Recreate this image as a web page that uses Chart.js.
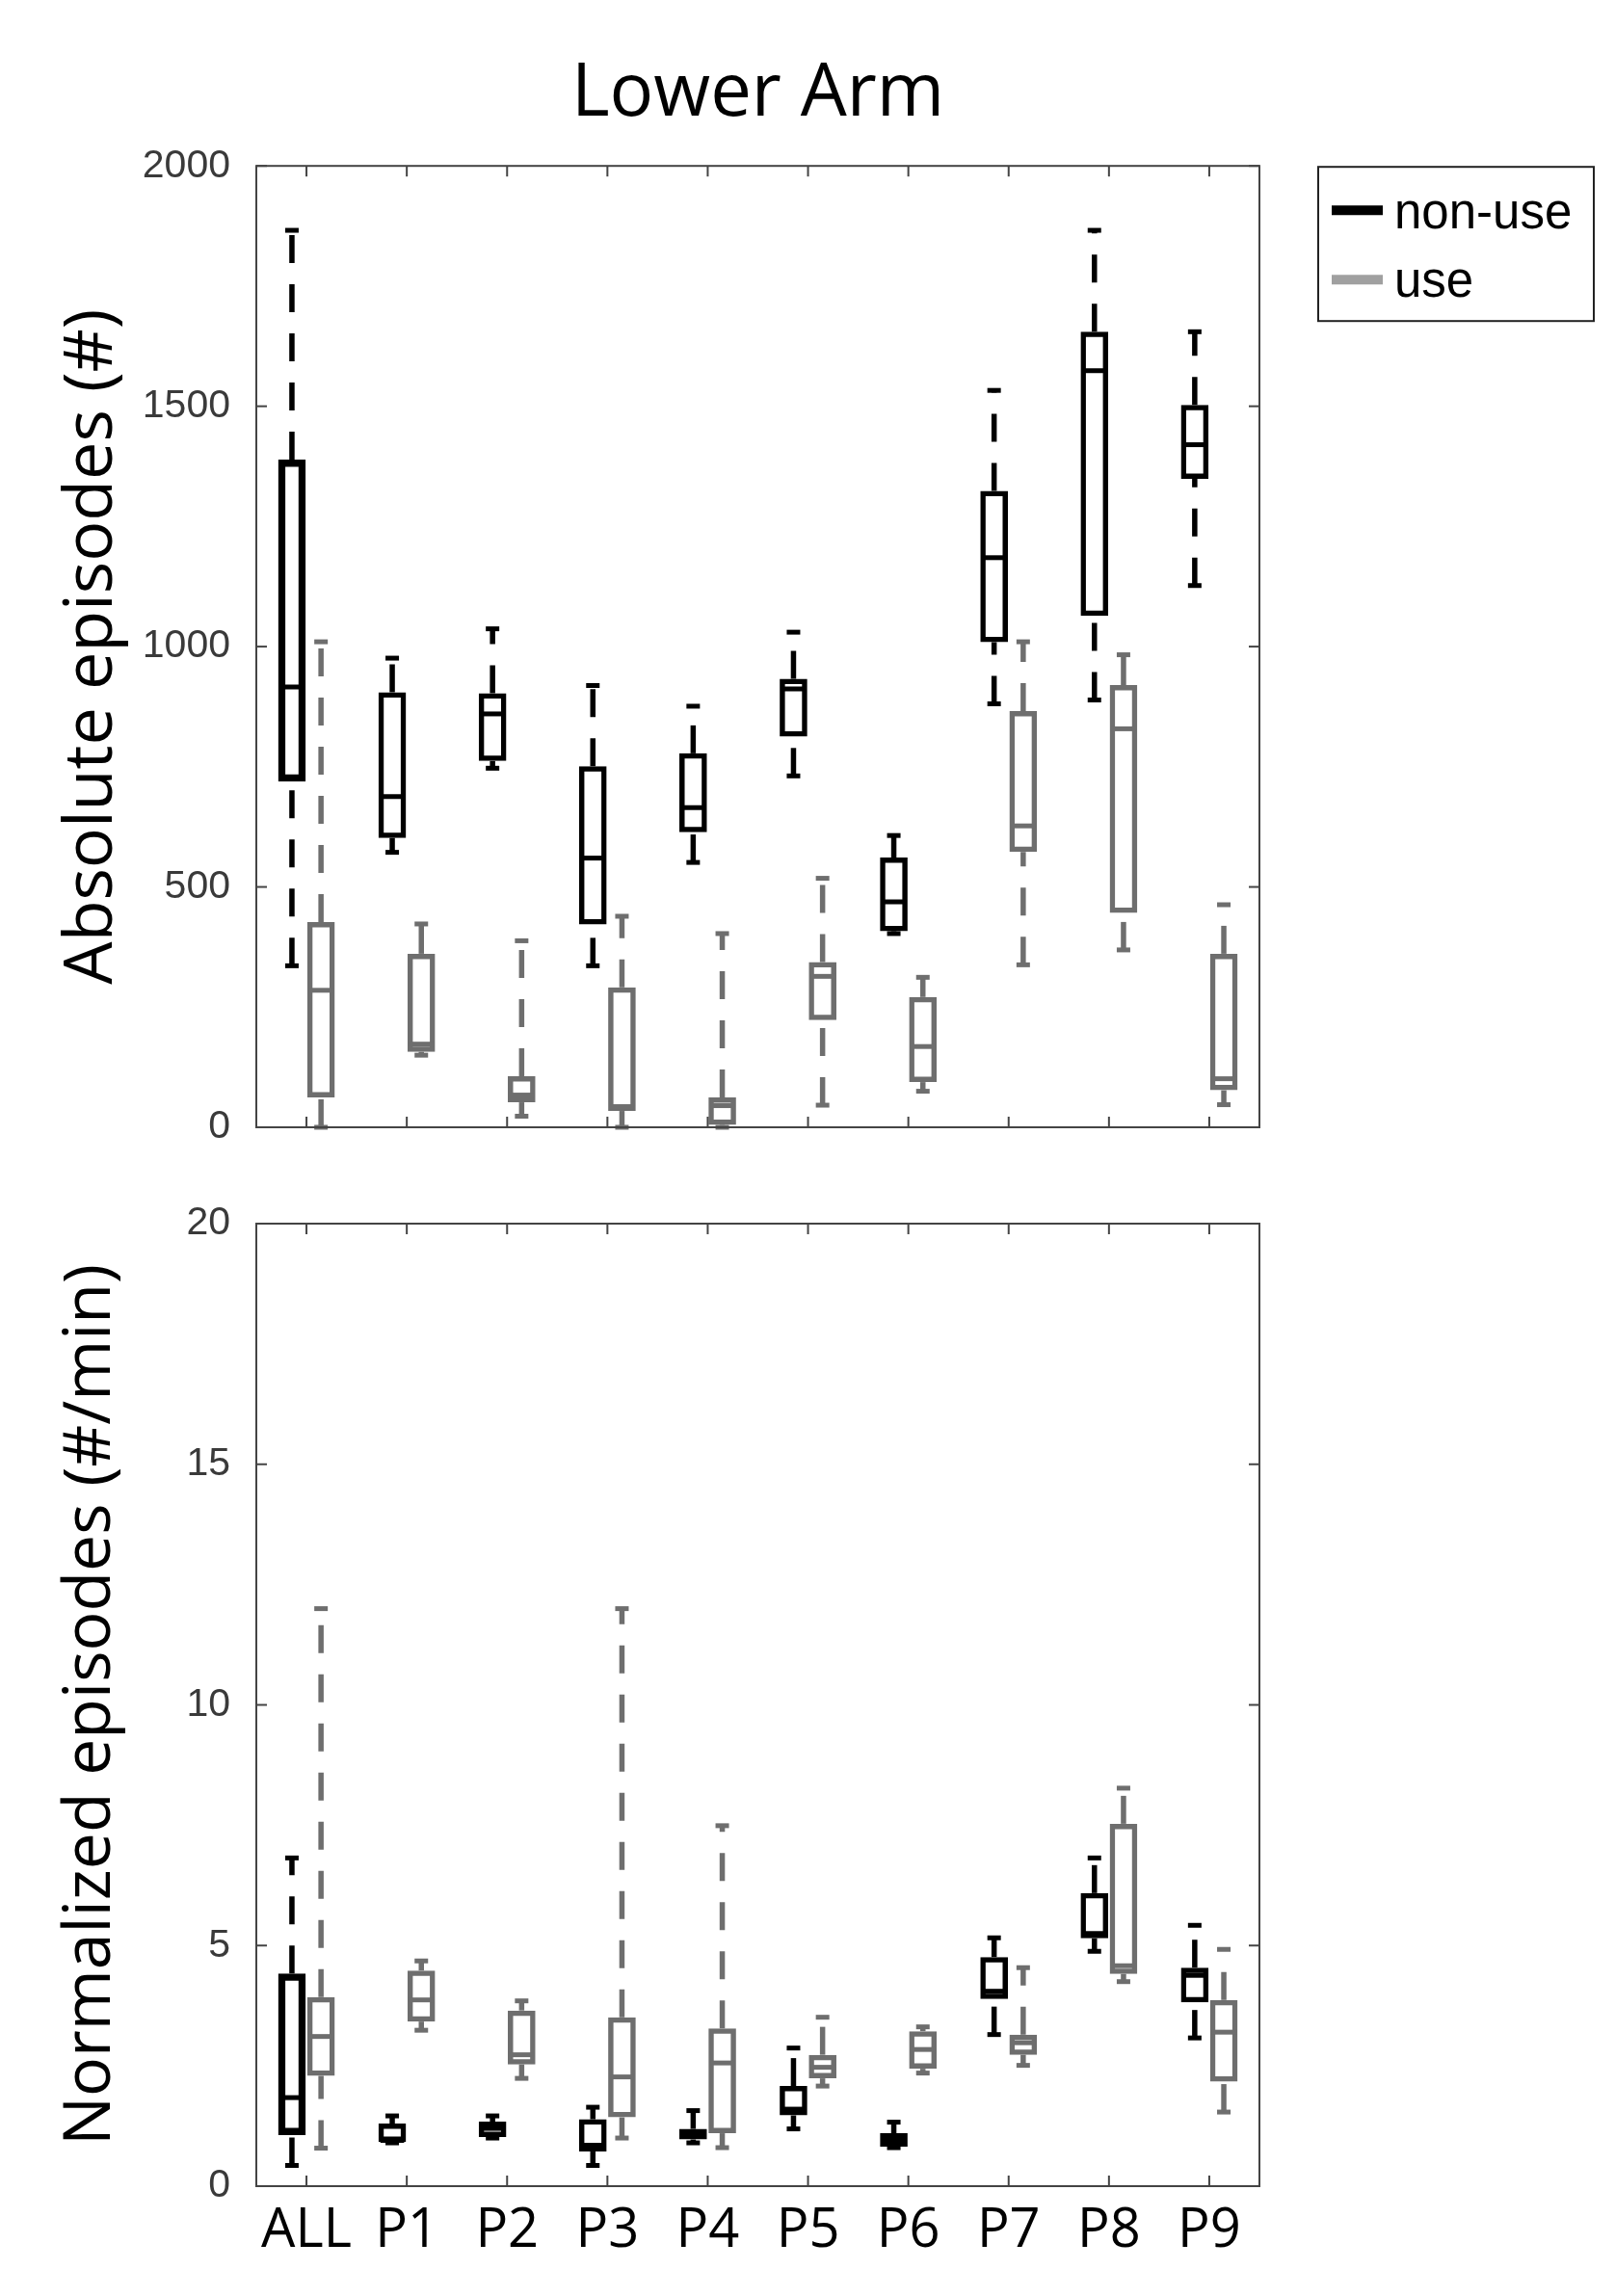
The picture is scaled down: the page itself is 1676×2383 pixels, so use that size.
<!DOCTYPE html>
<html>
<head>
<meta charset="utf-8">
<title>Lower Arm</title>
<script src="https://cdn.jsdelivr.net/npm/chart.js@4.4.1/dist/chart.umd.min.js"></script>
<style>
  html, body { margin: 0; padding: 0; background: #fff; }
  .panel { position: absolute; left: 0; width: 1676px; }
  #topPanel { top: 0; height: 1240px; }
  #bottomPanel { top: 1222px; height: 1161px; }
</style>
</head>
<body>
<div class="panel" id="topPanel"><canvas id="absChart"></canvas></div>
<div class="panel" id="bottomPanel"><canvas id="normChart"></canvas></div>
<script>
const CATEGORIES = ['ALL', 'P1', 'P2', 'P3', 'P4', 'P5', 'P6', 'P7', 'P8', 'P9'];
const ABS_TICKS = [0, 500, 1000, 1500, 2000];
const NORM_TICKS = [0, 5, 10, 15, 20];

// each entry: [min, q1, median, q3, max]
const absNonUse = [
    [336, 719, 916, 1389, 1866], [572, 602, 688, 905, 976], [747, 762, 860, 903, 1037],
    [336, 422, 560, 751, 919], [551, 614, 665, 778, 876], [731, 813, 912, 933, 1030],
    [403, 408, 469, 561, 607], [881, 1009, 1185, 1324, 1533], [889, 1064, 1574, 1655, 1866],
    [1127, 1349, 1420, 1503, 1655]
];
const absUse = [
    [0, 62, 285, 427, 1010], [150, 157, 173, 361, 423], [23, 52, 67, 106, 388],
    [0, 34, 43, 291, 439], [0, 5, 45, 62, 403], [46, 223, 314, 344, 518],
    [75, 94, 168, 271, 312], [338, 573, 627, 866, 1010], [369, 446, 829, 920, 983],
    [47, 77, 101, 361, 463]
];
const normNonUse = [
    [0.43, 1.06, 1.84, 4.42, 6.82], [0.9, 0.92, 0.95, 1.30, 1.46], [1.0, 1.02, 1.2, 1.34, 1.46],
    [0.43, 0.72, 0.85, 1.39, 1.64], [0.9, 0.97, 1.1, 1.19, 1.57], [1.19, 1.47, 1.6, 2.08, 2.87],
    [0.8, 0.82, 0.97, 1.1, 1.33], [3.15, 3.89, 4.05, 4.76, 5.16], [4.88, 5.15, 5.25, 6.09, 6.82],
    [3.08, 3.82, 4.38, 4.54, 5.42]
];
const normUse = [
    [0.79, 2.29, 3.11, 3.93, 12.0], [3.24, 3.42, 3.87, 4.48, 4.68], [2.24, 2.53, 2.73, 3.65, 3.85],
    [1.0, 1.43, 2.27, 3.51, 12.0], [0.8, 1.10, 2.56, 3.28, 7.49], [2.08, 2.24, 2.47, 2.73, 3.51],
    [2.35, 2.44, 2.84, 3.22, 3.31], [2.51, 2.73, 2.98, 3.15, 4.54], [4.25, 4.41, 4.58, 7.53, 8.27],
    [1.54, 2.17, 3.20, 3.87, 4.92]
];

const BLACK = '#000000';
const GREY = '#6e6e6e';
const FRAME = '#444444';

function strokeLine(ctx, x1, y1, x2, y2) {
    ctx.beginPath();
    ctx.moveTo(x1, y1);
    ctx.lineTo(x2, y2);
    ctx.stroke();
}

// medians, dashed whiskers and caps on top of the floating bars
const whiskerPlugin = {
    id: 'whiskers',
    afterDatasetsDraw(chart) {
        const ctx = chart.ctx;
        const yScale = chart.scales.y;
        const py = v => yScale.getPixelForValue(v);
        chart.data.datasets.forEach((ds, i) => {
            chart.getDatasetMeta(i).data.forEach((bar, j) => {
                const [lo, q1, med, q3, hi] = ds.stats[j];
                const x = bar.x;
                const half = bar.width / 2;
                ctx.save();
                ctx.strokeStyle = ds.borderColor;
                ctx.lineWidth = 5;
                strokeLine(ctx, x - half + 2, py(med), x + half - 2, py(med));
                ctx.lineWidth = 5.5;
                ctx.setLineDash([29, 22]);
                strokeLine(ctx, x, py(q3), x, py(hi));
                strokeLine(ctx, x, py(lo), x, py(q1));
                ctx.setLineDash([]);
                ctx.lineWidth = 5;
                strokeLine(ctx, x - 7, py(hi), x + 7, py(hi));
                strokeLine(ctx, x - 7, py(lo), x + 7, py(lo));
                ctx.restore();
            });
        });
    }
};

// MATLAB style box around the axes with inward ticks, plus the legend
const framePlugin = {
    id: 'frame',
    afterDraw(chart, args, opts) {
        const ctx = chart.ctx;
        const { left, right, top, bottom } = chart.chartArea;
        const xs = chart.scales.x;
        const ys = chart.scales.y;
        ctx.save();
        ctx.strokeStyle = FRAME;
        ctx.lineWidth = 2;
        ctx.strokeRect(left, top, right - left, bottom - top);
        ys.ticks.forEach(t => {
            const y = ys.getPixelForValue(t.value);
            strokeLine(ctx, left, y, left + 11, y);
            strokeLine(ctx, right, y, right - 11, y);
        });
        CATEGORIES.forEach((c, i) => {
            const x = xs.getPixelForValue(i);
            strokeLine(ctx, x, bottom, x, bottom - 11);
            strokeLine(ctx, x, top, x, top + 11);
        });
        if (opts.legend) {
            const lx = right + 61;
            const ly = top + 1;
            ctx.strokeStyle = '#222';
            ctx.lineWidth = 2;
            ctx.strokeRect(lx, ly, 286, 160);
            ctx.lineWidth = 10;
            ctx.strokeStyle = BLACK;
            strokeLine(ctx, lx + 14, ly + 45, lx + 67, ly + 45);
            ctx.strokeStyle = '#a0a0a0';
            strokeLine(ctx, lx + 14, ly + 117, lx + 67, ly + 117);
            ctx.fillStyle = '#000';
            ctx.font = '51px "Liberation Sans", Arial, sans-serif';
            ctx.textBaseline = 'alphabetic';
            ctx.fillText('non-use', lx + 79, ly + 64);
            ctx.fillText('use', lx + 79, ly + 135);
        }
        ctx.restore();
    }
};

function boxDataset(label, stats, color, widths) {
    return {
        label: label,
        data: stats.map(s => [s[1], s[3]]),
        stats: stats,
        borderColor: color,
        backgroundColor: 'rgba(0,0,0,0)',
        borderWidth: widths,
        borderSkipped: false,
        categoryPercentage: 0.58,
        barPercentage: 0.95
    };
}

function makeChart(canvasId, cfg) {
    const ctx = document.getElementById(canvasId).getContext('2d');
    return new Chart(ctx, {
        type: 'bar',
        data: {
            labels: CATEGORIES,
            datasets: [
                boxDataset('non-use', cfg.nonUse, BLACK, [7.5, 5.5, 5.5, 5.5, 5.5, 5.5, 5.5, 5.5, 5.5, 5.5]),
                boxDataset('use', cfg.use, GREY, 5.5)
            ]
        },
        options: {
            responsive: true,
            maintainAspectRatio: false,
            animation: false,
            events: [],
            layout: { padding: { left: 0, right: 369, top: cfg.padTop, bottom: 0 } },
            plugins: {
                legend: { display: false },
                tooltip: { enabled: false },
                title: cfg.title ? {
                    display: true,
                    text: cfg.title,
                    fullSize: false,
                    color: '#000',
                    font: { family: 'Open Sans', size: 76, weight: 'normal' },
                    padding: { top: 53, bottom: 28 }
                } : { display: false },
                frame: { legend: cfg.legend }
            },
            scales: {
                x: {
                    grid: { display: false },
                    border: { display: false },
                    ticks: {
                        display: cfg.showLabels,
                        color: '#000',
                        padding: 5,
                        font: { family: 'Open Sans', size: 56 }
                    },
                    afterFit: axis => { axis.height = cfg.xHeight; }
                },
                y: {
                    min: cfg.ticks[0],
                    max: cfg.ticks[cfg.ticks.length - 1],
                    grid: { display: false },
                    border: { display: false },
                    afterBuildTicks: axis => { axis.ticks = cfg.ticks.map(v => ({ value: v })); },
                    ticks: {
                        color: '#3a3a3a',
                        padding: 19,
                        font: { family: '"Liberation Sans", Arial, sans-serif', size: 41 },
                        callback: value => String(value)
                    },
                    title: {
                        display: true,
                        text: cfg.yTitle,
                        color: '#000',
                        font: { family: 'Open Sans', size: cfg.yTitleSize },
                        padding: { top: 54, bottom: 0 }
                    },
                    afterFit: axis => { axis.width = 266; }
                }
            }
        },
        plugins: [whiskerPlugin, framePlugin]
    });
}

makeChart('absChart', {
    nonUse: absNonUse,
    use: absUse,
    ticks: ABS_TICKS,
    yTitle: 'Absolute episodes (#)',
    yTitleSize: 70,
    title: 'Lower Arm',
    legend: true,
    showLabels: false,
    padTop: 0,
    xHeight: 70
});

makeChart('normChart', {
    nonUse: normNonUse,
    use: normUse,
    ticks: NORM_TICKS,
    yTitle: 'Normalized episodes (#/min)',
    yTitleSize: 68,
    title: null,
    legend: false,
    showLabels: true,
    padTop: 48,
    xHeight: 114
});
</script>
</body>
</html>
